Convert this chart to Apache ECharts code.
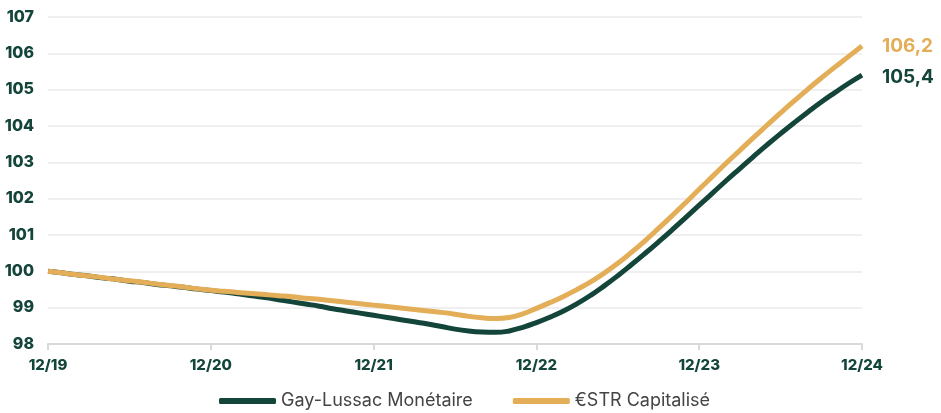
<!DOCTYPE html>
<html>
<head>
<meta charset="utf-8">
<script src="https://cdn.jsdelivr.net/npm/echarts@6/dist/echarts.min.js"></script>
<style>
html,body{margin:0;padding:0;background:#fff;}
#chart{width:941px;height:413px;}
</style>
</head>
<body>
<div id="chart"></div>
<script>
// Monthly categories from 12/19 to 12/24
const months = [
  "12/19","01/20","02/20","03/20","04/20","05/20","06/20","07/20","08/20","09/20","10/20","11/20",
  "12/20","01/21","02/21","03/21","04/21","05/21","06/21","07/21","08/21","09/21","10/21","11/21",
  "12/21","01/22","02/22","03/22","04/22","05/22","06/22","07/22","08/22","09/22","10/22","11/22",
  "12/22","01/23","02/23","03/23","04/23","05/23","06/23","07/23","08/23","09/23","10/23","11/23",
  "12/23","01/24","02/24","03/24","04/24","05/24","06/24","07/24","08/24","09/24","10/24","11/24",
  "12/24"
];

const gayLussac = [
  100.00, 99.96, 99.91, 99.87, 99.82, 99.78, 99.73, 99.69, 99.64, 99.60, 99.56, 99.51,
  99.47, 99.43, 99.38, 99.33, 99.28, 99.22, 99.16, 99.10, 99.04, 98.97, 98.91, 98.85,
  98.79, 98.73, 98.67, 98.61, 98.55, 98.48, 98.41, 98.36, 98.33, 98.32, 98.36, 98.46,
  98.59, 98.74, 98.91, 99.11, 99.34, 99.60, 99.88, 100.18, 100.49, 100.81, 101.14, 101.48,
  101.82, 102.16, 102.50, 102.83, 103.16, 103.48, 103.79, 104.09, 104.38, 104.66, 104.92, 105.17,
  105.40
];

const estr = [
  100.00, 99.96, 99.91, 99.87, 99.83, 99.78, 99.74, 99.70, 99.65, 99.61, 99.57, 99.52,
  99.48, 99.45, 99.42, 99.39, 99.36, 99.33, 99.30, 99.26, 99.23, 99.19, 99.15, 99.11,
  99.07, 99.03, 98.99, 98.95, 98.91, 98.87, 98.82, 98.76, 98.72, 98.70, 98.73, 98.83,
  98.98, 99.14, 99.31, 99.50, 99.71, 99.95, 100.22, 100.52, 100.84, 101.18, 101.53, 101.89,
  102.26, 102.62, 102.98, 103.33, 103.68, 104.02, 104.36, 104.69, 105.01, 105.32, 105.62, 105.91,
  106.20
];

const seriesNames = ["Gay-Lussac Monétaire", "€STR Capitalisé"];
const yMin = 98, yMax = 107, yStep = 1;

const GREEN = '#14453A';
const GOLD = '#E3AE57';
const FONT = 'Inter, "Noto Sans", sans-serif';

const chart = echarts.init(document.getElementById('chart'), null, {renderer: 'canvas'});
const fmt = v => v.toFixed(1).replace('.', ',');

chart.setOption({
  animation: false,
  backgroundColor: '#fff',
  grid: {left: 48, right: 79, top: 17, bottom: 69, containLabel: false},
  legend: {
    bottom: -2,
    left: 214,
    itemWidth: 57,
    itemHeight: 6,
    itemGap: 40,
    icon: 'roundRect',
    textStyle: {color: '#444', fontSize: 18, fontFamily: FONT},
    data: seriesNames
  },
  xAxis: {
    type: 'category',
    data: months,
    boundaryGap: false,
    axisLine: {show: true, lineStyle: {color: '#d9d9d9', width: 2}},
    axisTick: {show: true, interval: 11, length: 6, lineStyle: {color: '#d9d9d9', width: 2}},
    axisLabel: {interval: 11, color: GREEN, fontWeight: 800, fontSize: 15, fontFamily: FONT, margin: 14},
    splitLine: {show: false}
  },
  yAxis: {
    type: 'value',
    min: yMin, max: yMax, interval: yStep,
    axisLine: {show: false},
    axisTick: {show: false},
    axisLabel: {color: GREEN, fontWeight: 800, fontSize: 16, fontFamily: FONT, margin: 14},
    splitLine: {show: true, lineStyle: {color: '#efefef', width: 2}}
  },
  series: [
    {
      name: seriesNames[0],
      type: 'line',
      data: gayLussac,
      smooth: true,
      showSymbol: false,
      symbol: 'none',
      lineStyle: {color: GREEN, width: 5},
      itemStyle: {color: GREEN},
      z: 2,
      endLabel: {
        show: true, distance: 20, offset: [0, 2],
        formatter: p => fmt(p.value),
        color: GREEN, fontWeight: 'bold', fontSize: 19, fontFamily: FONT
      }
    },
    {
      name: seriesNames[1],
      type: 'line',
      data: estr,
      smooth: true,
      showSymbol: false,
      symbol: 'none',
      lineStyle: {color: GOLD, width: 5},
      itemStyle: {color: GOLD},
      z: 3,
      endLabel: {
        show: true, distance: 20,
        formatter: p => fmt(p.value),
        color: GOLD, fontWeight: 'bold', fontSize: 19, fontFamily: FONT
      }
    }
  ]
});
</script>
</body>
</html>
